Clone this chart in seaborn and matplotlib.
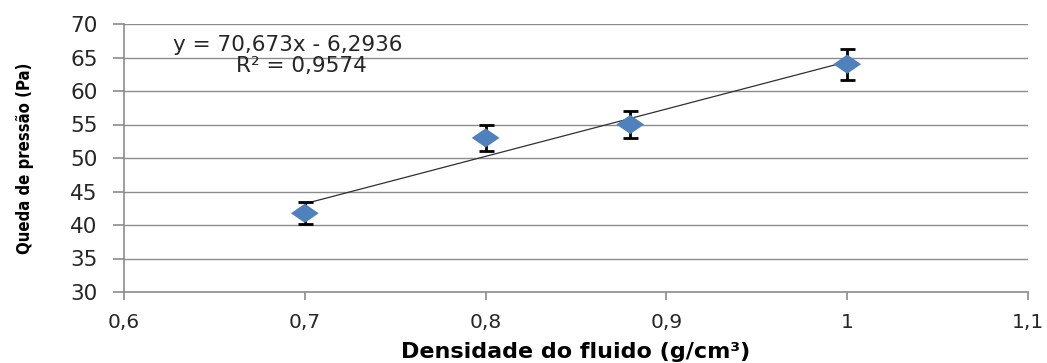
import numpy as np
import pandas as pd
import matplotlib
matplotlib.use("Agg")
import matplotlib.pyplot as plt
import seaborn as sns

# Measured data: fluid density vs. pressure drop, with error-bar half widths
densidade = [0.70, 0.80, 0.88, 1.00]
queda_pressao = [41.75, 53.0, 55.0, 64.0]
erro = [1.65, 2.0, 1.95, 2.3]

# Linear trendline coefficients and fit quality
coef_a = 70.673
coef_b = -6.2936
r2 = 0.9574

x_ticks = [0.6, 0.7, 0.8, 0.9, 1.0, 1.1]
x_ticklabels = ["0,6", "0,7", "0,8", "0,9", "1", "1,1"]
y_ticks = [30, 35, 40, 45, 50, 55, 60, 65, 70]

sns.set_theme(style="white")
plt.rcParams["font.family"] = ["DejaVu Sans"]

df = pd.DataFrame({"densidade": densidade, "queda": queda_pressao, "erro": erro})

fig = plt.figure(figsize=(10.47, 3.63), dpi=100)
ax = fig.add_axes([124 / 1047, 1 - 292 / 363, (1028 - 124) / 1047, (292 - 24) / 363])

grid_col = "#8c8c8c"
for yv in y_ticks[1:]:
    ax.axhline(yv, color=grid_col, lw=1.0, zorder=0)

# Trendline over the range of the data
x_fit = np.array([min(densidade), max(densidade)])
fit_df = pd.DataFrame({"x": x_fit, "y": coef_a * x_fit + coef_b})
sns.lineplot(data=fit_df, x="x", y="y", ax=ax, color="#303030", lw=0.9, zorder=2)

# Error bars
ax.errorbar(df["densidade"], df["queda"], yerr=df["erro"], fmt="none",
            ecolor="black", elinewidth=2.0, capsize=5.4, capthick=2.0, zorder=3)

# Wide diamond markers
diamante = [(-1.45, 0), (0, 1), (1.45, 0), (0, -1), (-1.45, 0)]
sns.scatterplot(data=df, x="densidade", y="queda", ax=ax, marker=diamante,
                s=400, color="#4F81BD", edgecolor="none", linewidth=0, zorder=4)

ax.set_xlim(0.6, 1.1)
ax.set_ylim(30, 70)
ax.set_xticks(x_ticks)
ax.set_xticklabels(x_ticklabels, fontsize=14.5, color="#262626")
ax.set_yticks(y_ticks)
ax.set_yticklabels([str(v) for v in y_ticks], fontsize=15.5, color="#262626")

for side in ["top", "right"]:
    ax.spines[side].set_visible(False)
for side in ["left", "bottom"]:
    ax.spines[side].set_color(grid_col)
    ax.spines[side].set_linewidth(1.2)

ax.tick_params(axis="x", direction="out", length=6, width=1.2, color=grid_col, pad=9, bottom=True)
ax.tick_params(axis="y", direction="out", length=8, width=1.2, color=grid_col, pad=11, left=True)

ax.set_xlabel("Densidade do fluido (g/cm³)", fontsize=16, fontweight="bold", color="black")
ax.set_ylabel("Queda de pressão (Pa)", fontsize=12, fontweight="bold",
              fontstretch="condensed", color="black")
ax.yaxis.set_label_coords(-99 / 904, 0.5)
ax.xaxis.set_label_coords(0.5, -(352 - 292) / 268)
ax.xaxis.label.set_verticalalignment("center")
ax.yaxis.label.set_verticalalignment("center")

eq_txt = f"y = {coef_a:.3f}x - {abs(coef_b):.4f}".replace(".", ",")
r2_txt = f"R² = {r2:.4f}".replace(".", ",")
ax.text(0.6907, 66.9, eq_txt, fontsize=15.5, color="#262626", ha="center", va="center")
ax.text(0.698, 63.7, r2_txt, fontsize=15.5, color="#262626", ha="center", va="center")

fig.savefig("out.png", dpi=100)
